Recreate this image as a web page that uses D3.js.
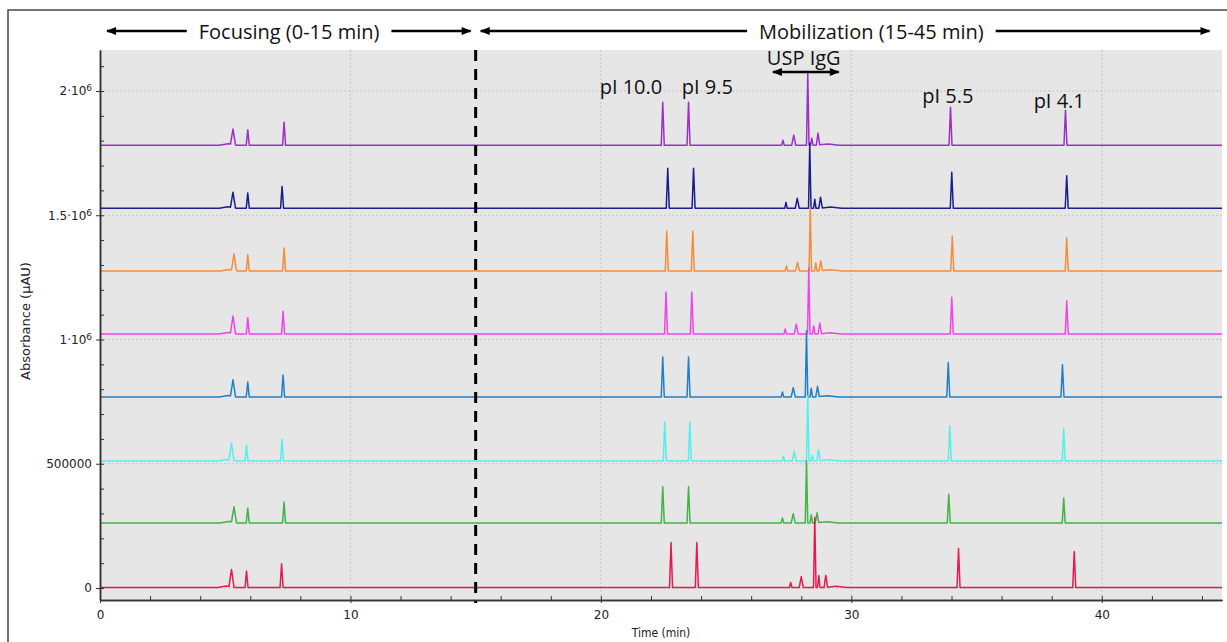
<!DOCTYPE html>
<html>
<head>
<meta charset="utf-8">
<script src="https://cdn.jsdelivr.net/npm/d3@7"></script>
<style>
body { margin: 0; background: #fff; }
svg { display: block; }
.tick text { font-family: "DejaVu Sans", Verdana, sans-serif; font-size: 12px; fill: #222; }
.note { font-family: "Open Sans", sans-serif; font-size: 20px; fill: #111; }
</style>
</head>
<body>
<svg id="chart" width="1227" height="642"></svg>
<script>
// traces listed from top (purple) to bottom (red)
var trace_colors = ['#9b30c9', '#1c1c8c', '#f58b3d', '#f043ec', '#1f80c9', '#55eeee', '#44b347', '#e8194e'];
var trace_offsets = [1782000, 1528000, 1276000, 1022000, 769000, 511000, 262000, 2000];

// peak order: focusing x3, pI 10.0, pI 9.5, USP IgG cluster x5, pI 5.5, pI 4.1
var peak_halfwidths = [0.1, 0.06, 0.06, 0.06, 0.06, 0.05, 0.08, 0.05, 0.05, 0.07, 0.06, 0.06];
var peak_times = [
    [5.31, 5.90, 7.35, 22.47, 23.50, 27.27, 27.70, 28.26, 28.42, 28.67, 33.96, 38.55],
    [5.31, 5.90, 7.27, 22.67, 23.70, 27.39, 27.84, 28.34, 28.54, 28.77, 34.01, 38.60],
    [5.35, 5.90, 7.35, 22.63, 23.67, 27.41, 27.85, 28.36, 28.58, 28.78, 34.03, 38.60],
    [5.31, 5.90, 7.31, 22.60, 23.63, 27.36, 27.80, 28.30, 28.50, 28.74, 34.01, 38.60],
    [5.31, 5.90, 7.31, 22.47, 23.50, 27.25, 27.68, 28.21, 28.40, 28.65, 33.87, 38.43],
    [5.25, 5.85, 7.27, 22.55, 23.55, 27.29, 27.72, 28.26, 28.44, 28.69, 33.93, 38.48],
    [5.35, 5.90, 7.35, 22.47, 23.50, 27.25, 27.68, 28.21, 28.40, 28.63, 33.89, 38.48],
    [5.25, 5.85, 7.25, 22.80, 23.83, 27.58, 28.00, 28.54, 28.70, 28.98, 34.28, 38.90]
];
var peak_heights = [
    [62000, 62000, 92000, 173000, 173000, 20000, 40000, 290000, 28000, 48000, 153000, 141000],
    [62000, 62000, 88000, 161000, 161000, 24000, 40000, 262000, 36000, 44000, 145000, 131000],
    [66000, 66000, 92000, 161000, 161000, 20000, 35000, 256000, 32000, 40000, 141000, 133000],
    [70000, 66000, 92000, 169000, 169000, 20000, 40000, 266000, 32000, 44000, 148000, 134000],
    [66000, 60000, 88000, 161000, 161000, 20000, 37000, 266000, 35000, 42000, 138000, 129000],
    [70000, 64000, 88000, 157000, 157000, 20000, 39000, 262000, 24000, 46000, 141000, 130000],
    [62000, 60000, 84000, 145000, 145000, 20000, 37000, 250000, 32000, 40000, 115000, 100000],
    [70000, 66000, 96000, 181000, 181000, 20000, 44000, 282000, 48000, 48000, 157000, 145000]
];
// low broad humps: front shoulder of first focusing peak, tail after the IgG cluster
var hump_shift = [-0.2, 0.4];
var hump_heights = [6000, 5000];
var hump_halfwidths = [0.35, 0.45];

var x_major = [0, 10, 20, 30, 40];
var x_minor = [2, 4, 6, 8, 12, 14, 16, 18, 22, 24, 26, 28, 32, 34, 36, 38, 42, 44];
var y_major = [0, 500000, 1000000, 1500000, 2000000];
var y_labels = [['0', ''], ['500000', ''], ['1·10', '6'], ['1.5·10', '6'], ['2·10', '6']];
var y_minor = [100000, 200000, 300000, 400000, 600000, 700000, 800000, 900000, 1100000, 1200000,
    1300000, 1400000, 1600000, 1700000, 1800000, 1900000, 2100000];

var phase_labels = ['Focusing (0-15 min)', 'Mobilization (15-45 min)'];
var phase_ranges = [[0.28, 14.8], [15.2, 44.3]];
var phase_centers = [7.55, 30.8];
var split_time = 15;

var pi_labels = ['pI 10.0', 'pI 9.5', 'pI 5.5', 'pI 4.1'];
var pi_label_times = [21.2, 24.25, 33.85, 38.3];
var pi_label_base = [94, 94, 103, 108];

var svg = d3.select('#chart');
var margin = {top: 50, left: 100, bottom: 42, right: 5};
var width = 1227, height = 642;

var x = d3.scaleLinear().domain([0, 44.8]).range([margin.left, width - margin.right]);
var y = d3.scaleLinear().domain([-48300, 2165000]).range([height - margin.bottom, margin.top]);

// outer frame
svg.append('path')
    .attr('d', 'M8,' + height + 'V10H' + width)
    .attr('fill', 'none').attr('stroke', '#444').attr('stroke-width', 1.5);

svg.append('rect')
    .attr('x', x(0)).attr('y', y.range()[1])
    .attr('width', x(44.8) - x(0)).attr('height', y.range()[0] - y.range()[1])
    .attr('fill', '#e6e6e6');

svg.append('clipPath').attr('id', 'clip').append('rect')
    .attr('x', x(0)).attr('y', y.range()[1])
    .attr('width', x(44.8) - x(0)).attr('height', y.range()[0] - y.range()[1]);

// grid
svg.append('g').selectAll('line').data(x_major.slice(1)).enter().append('line')
    .attr('x1', d => x(d)).attr('x2', d => x(d))
    .attr('y1', y.range()[1]).attr('y2', y.range()[0])
    .attr('stroke', '#c4c4c4').attr('stroke-dasharray', '2,2');
svg.append('g').selectAll('line').data(y_major).enter().append('line')
    .attr('x1', x(0)).attr('x2', x(44.8))
    .attr('y1', d => y(d)).attr('y2', d => y(d))
    .attr('stroke', '#c4c4c4').attr('stroke-dasharray', '2,2');

// traces
function trace_points(i) {
    var peaks = [];
    peak_times[i].forEach(function(t, j) {
        peaks.push([t, peak_heights[i][j], peak_halfwidths[j]]);
    });
    peaks.push([peak_times[i][0] + hump_shift[0], hump_heights[0], hump_halfwidths[0]]);
    peaks.push([peak_times[i][9] + hump_shift[1], hump_heights[1], hump_halfwidths[1]]);
    var xs = [0, 44.8];
    peaks.forEach(function(p) { xs.push(p[0] - p[2], p[0], p[0] + p[2]); });
    xs = [...new Set(xs)].sort(d3.ascending);
    return xs.map(function(t) {
        var v = trace_offsets[i];
        peaks.forEach(function(p) { v += p[1] * Math.max(0, 1 - Math.abs(t - p[0]) / p[2]); });
        return [t, v];
    });
}

var line = d3.line().x(d => x(d[0])).y(d => y(d[1]));

svg.append('g').attr('clip-path', 'url(#clip)')
    .selectAll('path').data(trace_colors).enter().append('path')
    .attr('d', (c, i) => line(trace_points(i)))
    .attr('fill', 'none')
    .attr('stroke', c => c)
    .attr('stroke-width', 1.5)
    .attr('stroke-linejoin', 'round');

// axes
var xAxis = svg.append('g').attr('transform', `translate(0,${y.range()[0]})`)
    .call(d3.axisBottom(x).tickValues(x_major).tickSizeInner(3).tickSizeOuter(0).tickPadding(7));
svg.append('g').attr('transform', `translate(0,${y.range()[0]})`)
    .call(d3.axisBottom(x).tickValues(x_major.concat(x_minor)).tickSizeInner(-4).tickSizeOuter(0).tickFormat(''));

var yAxis = svg.append('g').attr('transform', `translate(${x(0)},0)`)
    .call(d3.axisLeft(y).tickValues(y_major).tickSizeInner(4).tickSizeOuter(0).tickPadding(4)
        .tickFormat((d, i) => y_labels[i][0]));
yAxis.selectAll('.tick text').each(function(d, i) {
    if (y_labels[i][1]) {
        d3.select(this).append('tspan')
            .attr('font-size', '9px').attr('dy', '-0.45em')
            .text(y_labels[i][1]);
    }
});
svg.append('g').attr('transform', `translate(${x(0)},0)`)
    .call(d3.axisLeft(y).tickValues(y_major.concat(y_minor)).tickSizeInner(-4).tickSizeOuter(0).tickFormat(''));

svg.selectAll('.domain').attr('stroke', '#333').attr('stroke-width', 1.5);
svg.selectAll('.tick line').attr('stroke', '#333');

svg.append('text')
    .attr('x', (x(0) + x(44.8)) / 2).attr('y', 637)
    .attr('text-anchor', 'middle')
    .style('font-family', '"DejaVu Sans Condensed", "DejaVu Sans", sans-serif')
    .style('font-size', '12px').attr('fill', '#222')
    .text('Time (min)');

svg.append('text')
    .attr('transform', 'translate(30,321) rotate(-90)')
    .attr('text-anchor', 'middle')
    .style('font-family', '"DejaVu Sans", sans-serif')
    .style('font-size', '13px').attr('fill', '#222')
    .text('Absorbance (µAU)');

// focusing / mobilization split
svg.append('line')
    .attr('x1', x(split_time)).attr('x2', x(split_time))
    .attr('y1', y.range()[1]).attr('y2', y.range()[0] + 3)
    .attr('stroke', '#000').attr('stroke-width', 3).attr('stroke-dasharray', '11,8');

// arrow heads
var defs = svg.append('defs');
defs.append('marker').attr('id', 'ah')
    .attr('viewBox', '0 0 10 8').attr('refX', 9).attr('refY', 4)
    .attr('markerUnits', 'userSpaceOnUse')
    .attr('markerWidth', 11).attr('markerHeight', 8)
    .attr('orient', 'auto-start-reverse')
    .append('path').attr('d', 'M0,0L10,4L0,8Z').attr('fill', '#000');

phase_labels.forEach(function(lab, i) {
    var t = svg.append('text').attr('class', 'note')
        .attr('x', x(phase_centers[i])).attr('y', 39)
        .attr('text-anchor', 'middle').text(lab);
    var w = t.node().getComputedTextLength();
    var cx = x(phase_centers[i]);
    svg.append('line')
        .attr('x1', cx - w / 2 - 12).attr('x2', x(phase_ranges[i][0]))
        .attr('y1', 31).attr('y2', 31)
        .attr('stroke', '#000').attr('stroke-width', 2.5).attr('marker-end', 'url(#ah)');
    svg.append('line')
        .attr('x1', cx + w / 2 + 12).attr('x2', x(phase_ranges[i][1]))
        .attr('y1', 31).attr('y2', 31)
        .attr('stroke', '#000').attr('stroke-width', 2.5).attr('marker-end', 'url(#ah)');
});

// USP IgG range
svg.append('text').attr('class', 'note')
    .attr('x', x(28.1)).attr('y', 65).attr('text-anchor', 'middle').text('USP IgG');
svg.append('line')
    .attr('x1', x(26.87)).attr('x2', x(29.5))
    .attr('y1', 72).attr('y2', 72)
    .attr('stroke', '#000').attr('stroke-width', 2.5)
    .attr('marker-start', 'url(#ah)').attr('marker-end', 'url(#ah)');

svg.selectAll('.pi').data(pi_labels).enter().append('text')
    .attr('class', 'note pi')
    .attr('x', (d, i) => x(pi_label_times[i]))
    .attr('y', (d, i) => pi_label_base[i])
    .attr('text-anchor', 'middle')
    .text(d => d);
</script>
</body>
</html>
